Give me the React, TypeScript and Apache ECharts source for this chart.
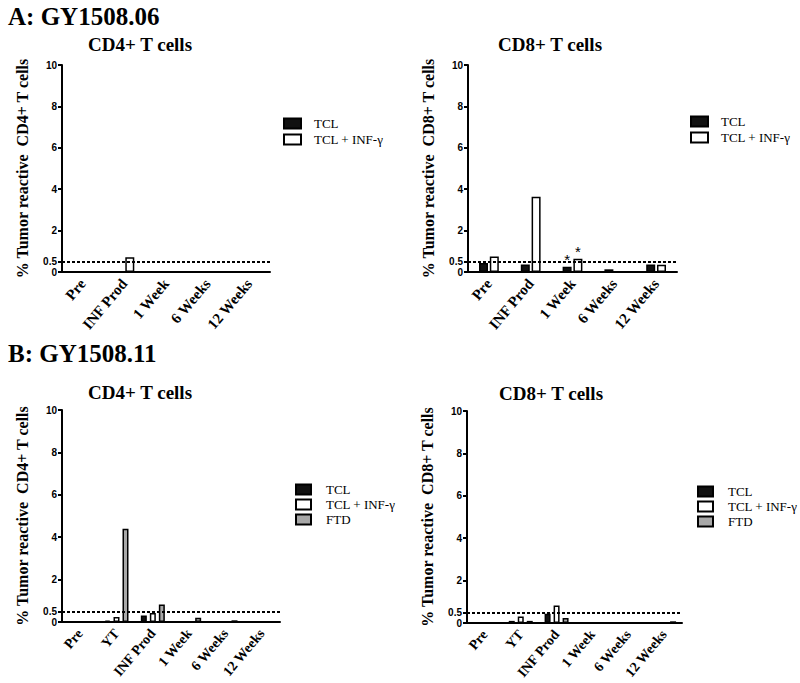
import React, { useEffect, useRef } from "react";
import * as echarts from "echarts";

const catsA = ["Pre", "INF Prod", "1 Week", "6 Weeks", "12 Weeks"];
const catsB = ["Pre", "YT", "INF Prod", "1 Week", "6 Weeks", "12 Weeks"];

const aCD4_TCL = [0, 0, 0, 0, 0];
const aCD4_INF = [0, 0.71, 0, 0, 0];

const aCD8_TCL = [0.43, 0.36, 0.25, 0.13, 0.36];
const aCD8_INF = [0.75, 3.64, 0.64, 0, 0.35];
const aCD8_TCL_star = [false, false, true, false, false];
const aCD8_INF_star = [false, false, true, false, false];

const bCD4_TCL = [0, 0.07, 0.31, 0, 0, 0];
const bCD4_INF = [0, 0.24, 0.42, 0, 0, 0];
const bCD4_FTD = [0, 4.4, 0.83, 0.2, 0.08, 0];

const bCD8_TCL = [0, 0.1, 0.44, 0, 0, 0];
const bCD8_INF = [0, 0.31, 0.82, 0, 0, 0];
const bCD8_FTD = [0, 0.1, 0.24, 0, 0, 0.08];

const yTicks = [0, 0.5, 2, 4, 6, 8, 10];
const yLabelsMain = [0, 2, 4, 6, 8, 10];
const yLabelsExtra = [0.5];
const threshold = 0.5;

const NAME_TCL = "TCL";
const NAME_INF = "TCL + INF-γ";
const NAME_FTD = "FTD";

const SERIF = "'Liberation Serif', 'Times New Roman', serif";
const SANS = "'Liberation Sans', Arial, sans-serif";

const COLORS: Record<string, string> = {
  [NAME_TCL]: "#111111",
  [NAME_INF]: "#ffffff",
  [NAME_FTD]: "#a8a8a8",
};

export default function App() {
  const ref = useRef<HTMLDivElement>(null);
  useEffect(() => {
    if (!ref.current) return;
    const chart = echarts.init(ref.current, null, { renderer: "svg" });

    const grids = [
      { left: 62, top: 65, width: 208, height: 207 },
      { left: 468, top: 65, width: 209, height: 207 },
      { left: 62, top: 410, width: 218, height: 212 },
      { left: 467, top: 411, width: 215, height: 212 },
    ];
    const cellNames = ["CD4+", "CD8+", "CD4+", "CD8+"];
    const cats = [catsA, catsA, catsB, catsB];
    const xFont = [15, 15, 14, 14];

    const xAxis = grids.map((g, i) => ({
      type: "category",
      gridIndex: i,
      data: cats[i],
      boundaryGap: true,
      axisLine: { lineStyle: { color: "#000", width: 2 } },
      axisTick: { alignWithLabel: true, length: 5, lineStyle: { color: "#000", width: 2 } },
      axisLabel: {
        rotate: 50,
        margin: 9,
        color: "#000",
        fontFamily: SERIF,
        fontWeight: "bold",
        fontSize: xFont[i],
        interval: 0,
      },
    }));

    const labelStyle = {
      hideOverlap: false,
      margin: 5,
      color: "#000",
      fontFamily: SANS,
      fontWeight: "bold",
      fontSize: 10,
      lineHeight: 10,
    };

    const yAxis: any[] = [];
    grids.forEach((g, i) => {
      yAxis.push({
        type: "value",
        gridIndex: i,
        min: 0,
        max: 10,
        name: "% Tumor reactive  " + cellNames[i] + " T cells",
        nameLocation: "middle",
        nameGap: 32,
        nameTextStyle: { fontFamily: SERIF, fontWeight: "bold", fontSize: 16, color: "#000" },
        splitLine: { show: false },
        axisLine: { show: true, lineStyle: { color: "#000", width: 2 } },
        axisTick: { show: true, length: 4, customValues: yTicks, lineStyle: { color: "#000", width: 2 } },
        axisLabel: { ...labelStyle, customValues: yLabelsMain, showMinLabel: true, showMaxLabel: true },
      });
    });
    grids.forEach((g, i) => {
      yAxis.push({
        type: "value",
        gridIndex: i,
        min: 0,
        max: 10,
        position: "left",
        offset: 0,
        splitLine: { show: false },
        axisLine: { show: false },
        axisTick: { show: false },
        axisLabel: { ...labelStyle, customValues: yLabelsExtra, showMinLabel: true, showMaxLabel: true },
      });
    });

    const mkData = (vals: number[], stars?: boolean[]) =>
      vals.map((v, k) =>
        stars && stars[k]
          ? { value: v, label: { show: true, formatter: "*", position: "top", distance: 0, fontSize: 15, color: "#000", fontFamily: SANS } }
          : v
      );

    const mkSeries = (name: string, gi: number, vals: number[], width: number, gap: string, stars?: boolean[], withLine?: boolean) => {
      const s: any = {
        type: "bar",
        name,
        xAxisIndex: gi,
        yAxisIndex: gi,
        data: mkData(vals, stars),
        barWidth: width,
        barGap: gap,
        itemStyle: { color: COLORS[name], borderColor: "#000", borderWidth: 1.5 },
      };
      if (withLine) {
        s.markLine = {
          silent: true,
          symbol: ["none", "none"],
          label: { show: false },
          lineStyle: { color: "#000", type: [3, 2], width: 2 },
          data: [{ yAxis: threshold }],
        };
      }
      return s;
    };

    const series = [
      mkSeries(NAME_TCL, 0, aCD4_TCL, 9, "20%", undefined, true),
      mkSeries(NAME_INF, 0, aCD4_INF, 9, "20%"),
      mkSeries(NAME_TCL, 1, aCD8_TCL, 9, "20%", aCD8_TCL_star, true),
      mkSeries(NAME_INF, 1, aCD8_INF, 9, "20%", aCD8_INF_star),
      mkSeries(NAME_TCL, 2, bCD4_TCL, 6, "50%", undefined, true),
      mkSeries(NAME_INF, 2, bCD4_INF, 6, "50%"),
      mkSeries(NAME_FTD, 2, bCD4_FTD, 6, "50%"),
      mkSeries(NAME_TCL, 3, bCD8_TCL, 6, "50%", undefined, true),
      mkSeries(NAME_INF, 3, bCD8_INF, 6, "50%"),
      mkSeries(NAME_FTD, 3, bCD8_FTD, 6, "50%"),
    ];

    const legendBase = {
      orient: "vertical",
      itemWidth: 17,
      itemHeight: 10,
      itemGap: 3,
      padding: 0,
      icon: "rect",
      selectedMode: false,
      textStyle: { fontFamily: SERIF, fontSize: 13, lineHeight: 13, color: "#000", padding: [0, 0, 0, 8] },
    };
    const legend = [
      { ...legendBase, left: 283, top: 117, data: [NAME_TCL, NAME_INF] },
      { ...legendBase, left: 690, top: 115, data: [NAME_TCL, NAME_INF] },
      { ...legendBase, left: 295, top: 483, itemWidth: 15, itemGap: 2, textStyle: { ...legendBase.textStyle, padding: [0, 0, 0, 10] }, data: [NAME_TCL, NAME_INF, NAME_FTD] },
      { ...legendBase, left: 697, top: 485, itemWidth: 15, itemGap: 2, textStyle: { ...legendBase.textStyle, padding: [0, 0, 0, 10] }, data: [NAME_TCL, NAME_INF, NAME_FTD] },
    ];

    const txt = (text: string, x: number, y: number, size: number, align: string) => ({
      type: "text",
      x,
      y,
      style: {
        text,
        fontFamily: SERIF,
        fontWeight: "bold",
        fontSize: size,
        fill: "#000",
        textAlign: align,
        textVerticalAlign: "middle",
      },
    });

    chart.setOption({
      animation: false,
      backgroundColor: "#fff",
      grid: grids,
      xAxis,
      yAxis,
      series,
      legend,
      graphic: [
        txt("A: GY1508.06", 8, 16, 25, "left"),
        txt("B: GY1508.11", 8, 353, 25, "left"),
        txt("CD4+ T cells", 140, 44, 19, "center"),
        txt("CD8+ T cells", 550, 44, 19, "center"),
        txt("CD4+ T cells", 140, 392, 19, "center"),
        txt("CD8+ T cells", 551, 393, 19, "center"),
      ],
    });

    return () => chart.dispose();
  }, []);

  return <div ref={ref} style={{ position: "absolute", left: 0, top: 0, width: 800, height: 683 }} />;
}
